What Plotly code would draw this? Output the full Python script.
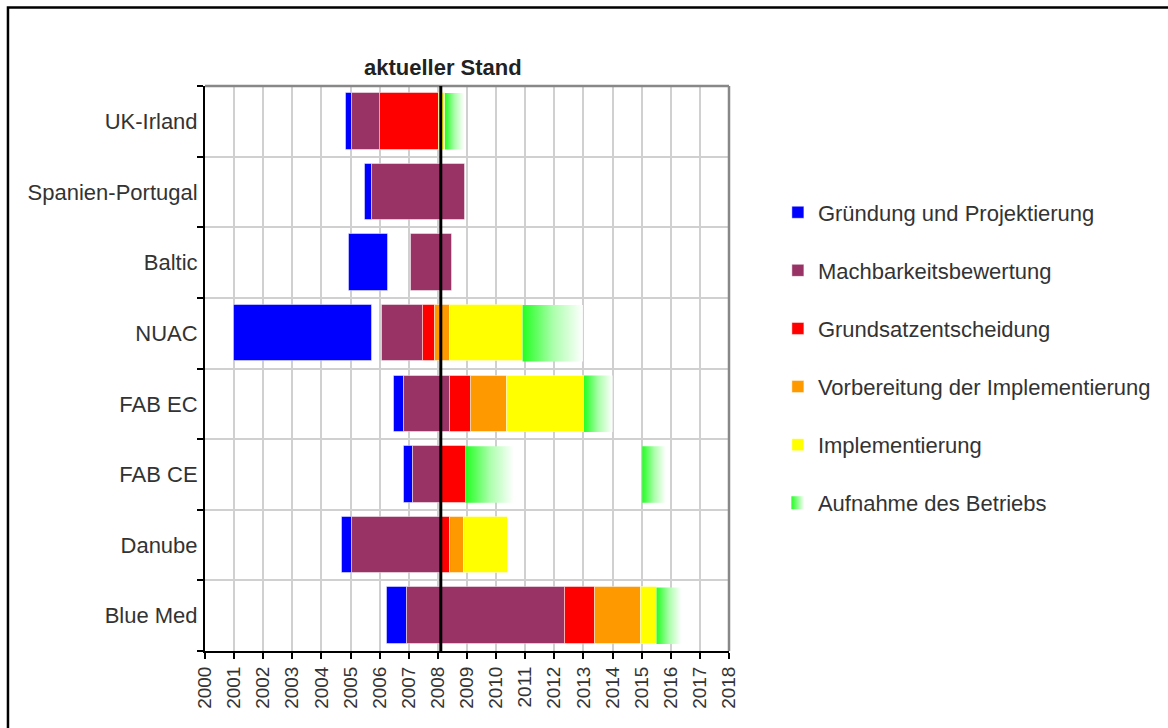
import plotly.graph_objects as go

# Projects (top to bottom) and the phase timeline of each, in decimal years
projects = ["UK-Irland", "Spanien-Portugal", "Baltic", "NUAC",
            "FAB EC", "FAB CE", "Danube", "Blue Med"]

phase_names = ["Gründung und Projektierung", "Machbarkeitsbewertung",
               "Grundsatzentscheidung", "Vorbereitung der Implementierung",
               "Implementierung"]
phase_colors = ["#0000ff", "#993366", "#ff0000", "#ff9900", "#ffff00"]

gruendung_start = [2004.83, 2005.48, 2004.94, 2001.00, 2006.49, 2006.83, 2004.70, 2006.24]
gruendung_end = [2005.05, 2005.72, 2006.30, 2005.75, 2006.83, 2007.13, 2005.05, 2006.95]
machbarkeit_start = [2005.05, 2005.72, 2007.07, 2006.07, 2006.83, 2007.13, 2005.05, 2006.95]
machbarkeit_end = [2006.01, 2008.94, 2008.48, 2007.48, 2008.42, 2008.12, 2008.12, 2012.37]
grundsatz_start = [2006.01, None, None, 2007.48, 2008.42, 2008.12, 2008.12, 2012.37]
grundsatz_end = [2008.04, None, None, 2007.89, 2009.14, 2008.95, 2008.42, 2013.38]
vorbereitung_start = [None, None, None, 2007.89, 2009.14, None, 2008.42, 2013.38]
vorbereitung_end = [None, None, None, 2008.42, 2010.38, None, 2008.91, 2014.98]
implementierung_start = [2008.04, None, None, 2008.42, 2010.38, None, 2008.91, 2014.98]
implementierung_end = [2008.24, None, None, 2010.91, 2013.02, None, 2010.41, 2015.51]

# Start of operations (fading bars): project, start, end
betrieb_project = ["UK-Irland", "NUAC", "FAB EC", "FAB CE", "FAB CE", "Blue Med"]
betrieb_start = [2008.24, 2010.91, 2013.02, 2008.95, 2015.02, 2015.51]
betrieb_end = [2008.90, 2012.98, 2014.00, 2010.60, 2015.83, 2016.36]
betrieb_name = "Aufnahme des Betriebs"

aktueller_stand = 2008.1
year_ticks = list(range(2000, 2019))

phase_starts = [gruendung_start, machbarkeit_start, grundsatz_start,
                vorbereitung_start, implementierung_start]
phase_ends = [gruendung_end, machbarkeit_end, grundsatz_end,
              vorbereitung_end, implementierung_end]

n = len(projects)
ypos = {p: n - 1 - i for i, p in enumerate(projects)}
y_vals = [ypos[p] for p in projects]
bar_w = 0.8

FONT = "Liberation Sans, Arial, sans-serif"
fig = go.Figure()

for k, name in enumerate(phase_names):
    base = []
    length = []
    for s, e in zip(phase_starts[k], phase_ends[k]):
        if s is None:
            base.append(None)
            length.append(None)
        else:
            base.append(s)
            length.append(e - s)
    fig.add_trace(go.Bar(
        name=name, orientation="h", y=y_vals, x=length, base=base,
        width=bar_w, marker=dict(color=phase_colors[k],
                                 line=dict(width=1, color="rgba(255,255,255,0.45)")),
        legendgroup=name, hoverinfo="skip"))

green_scale = [[0, "#22ff22"], [0.5, "#aaffaa"], [1, "#ffffff"]]
for p, s, e in zip(betrieb_project, betrieb_start, betrieb_end):
    y0 = ypos[p] - bar_w / 2
    y1 = ypos[p] + bar_w / 2
    fig.add_trace(go.Scatter(
        x=[s, e, e, s, s], y=[y0, y0, y1, y1, y0], mode="none",
        fill="toself",
        fillgradient=dict(type="horizontal", colorscale=green_scale),
        name=betrieb_name, legendgroup=betrieb_name, showlegend=False,
        hoverinfo="skip"))

# legend entry for the fading bars: a small green-to-white square
fig.add_trace(go.Scatter(
    x=[None], y=[None], mode="markers", name=betrieb_name,
    legendgroup=betrieb_name, showlegend=True, hoverinfo="skip",
    marker=dict(symbol="square", size=13, color="#22ff22",
                gradient=dict(type="horizontal", color="#ffffff"))))

grid = "#d0d0d0"
fig.update_xaxes(
    range=[2000, 2018], tickvals=year_ticks, ticktext=[str(t) for t in year_ticks],
    tickangle=-90, showgrid=True, gridcolor=grid, gridwidth=2,
    showline=True, linecolor="black", linewidth=2,
    ticks="outside", ticklen=6, tickwidth=2, tickcolor="black",
    tickfont=dict(family=FONT, size=19, color="#333333"), zeroline=False)
fig.update_yaxes(
    range=[-0.5, n - 0.5], tickvals=y_vals, ticktext=projects,
    showgrid=False, zeroline=False, ticks="", ticklabelstandoff=1,
    showline=True, linecolor="black", linewidth=2,
    tickfont=dict(family=FONT, size=22, color="#333333"),
    minor=dict(tickvals=[v + 0.5 for v in range(-1, n)], showgrid=True,
               gridcolor=grid, gridwidth=2, ticks="outside", ticklen=6,
               tickwidth=2, tickcolor="black"))

# Plot frame (top, right), current-date marker, and page border
fig.add_shape(type="line", xref="paper", yref="paper", x0=0, x1=1, y0=1, y1=1,
              line=dict(color="#888888", width=2.5))
fig.add_shape(type="line", xref="paper", yref="paper", x0=1, x1=1, y0=0, y1=1,
              line=dict(color="#888888", width=2.5))
fig.add_shape(type="line", xref="x", yref="paper", x0=aktueller_stand, x1=aktueller_stand,
              y0=0, y1=1, line=dict(color="black", width=3), layer="above")
fig.add_shape(type="rect", xref="paper", yref="paper", x0=-0.376, x1=1.85,
              y0=-0.2, y1=1.139, line=dict(color="black", width=2.5),
              fillcolor="rgba(0,0,0,0)")

fig.add_annotation(text="<b>aktueller Stand</b>", x=aktueller_stand + 0.08, xref="x",
                   y=1.032, yref="paper", yanchor="middle", showarrow=False,
                   font=dict(family=FONT, size=22, color="#222222"))

fig.update_layout(
    width=1168, height=728,
    margin=dict(l=205, r=439, t=86, b=77),
    paper_bgcolor="white", plot_bgcolor="white",
    barmode="overlay", bargap=0,
    showlegend=True,
    legend=dict(xref="container", x=0.666, xanchor="left",
                yref="container", y=0.737, yanchor="top",
                traceorder="grouped", tracegroupgap=26.5,
                font=dict(family=FONT, size=22, color="#333333"),
                bgcolor="rgba(0,0,0,0)"),
)

fig.write_html("out.html")
